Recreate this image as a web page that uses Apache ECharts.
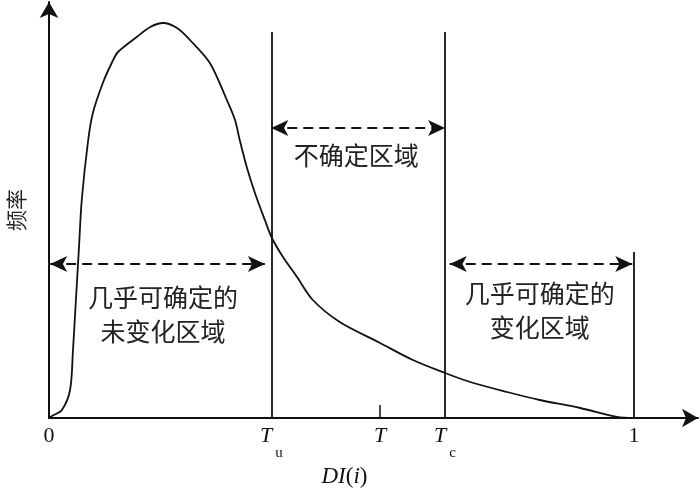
<!DOCTYPE html>
<html>
<head>
<meta charset="utf-8">
<script src="https://cdn.jsdelivr.net/npm/echarts@6/dist/echarts.min.js"></script>
<style>
html,body{margin:0;padding:0;background:#fff;}
#c{width:700px;height:493px;}
</style>
</head>
<body>
<div id="c"></div>
<script>
// Frequency curve of DI(i)
const curveX = [0, 0.005, 0.022, 0.036, 0.041, 0.046, 0.051, 0.056, 0.067, 0.075, 0.092, 0.108, 0.118, 0.150, 0.173, 0.195, 0.219, 0.241, 0.275, 0.304, 0.318, 0.326, 0.338, 0.352, 0.369, 0.381, 0.400, 0.424, 0.451, 0.497, 0.566, 0.622, 0.677, 0.720, 0.783, 0.839, 0.908, 0.971, 1.0];
const curveY = [0, 2, 8, 28, 68, 118, 168, 218, 278, 305, 335, 356, 366, 381, 391, 395, 390, 378, 355, 318, 298, 278, 251, 225, 198, 180, 161, 141, 118, 96, 75, 58, 45, 36, 26, 18, 10, 1, 0];

// thresholds and tick labels
const tickValues = [0, 0.38, 0.566, 0.677, 1];
const tickLabels = ['0', '{i|T}{s|u}', '{i|T}', '{i|T}{s|c}', '1'];
const Tu = 0.38, T = 0.566, Tc = 0.677;

// boundary lines: [x, top]
const boundX = [Tu, Tc, 1];
const boundTop = [386, 386, 166];

// double arrows: [x0, x1, y]
const arrowX0 = [Tu, 0.002, 0.685];
const arrowX1 = [Tc, 0.369, 0.997];
const arrowY = [290, 154, 154];

// region texts
const regionText = ['不确定区域', '几乎可确定的\n未变化区域', '几乎可确定的\n变化区域'];
const regionX = [0.525, 0.195, 0.839];
const regionY = [263, 104, 108];

const chart = echarts.init(document.getElementById('c'), null, {renderer: 'canvas'});

const cjk = '"Noto Sans CJK SC", sans-serif';
const serif = '"Liberation Serif", "DejaVu Serif", serif';

const markLineData = [];
boundX.forEach((x, i) => {
  markLineData.push([
    {coord: [x, 0], symbol: 'none', lineStyle: {type: 'solid', width: 1.8, color: '#111'}},
    {coord: [x, boundTop[i]], symbol: 'none'}
  ]);
});
arrowX0.forEach((x0, i) => {
  markLineData.push([
    {coord: [x0, arrowY[i]], symbol: 'arrow', lineStyle: {type: [10, 6], width: 2, color: '#111'}},
    {coord: [arrowX1[i], arrowY[i]], symbol: 'arrow'}
  ]);
});

const markPointData = regionText.map((t, i) => ({name: t, coord: [regionX[i], regionY[i]]}));

const option = {
  animation: false,
  backgroundColor: '#fff',
  grid: {left: 49, right: 2, top: 2, bottom: 75, outerBoundsMode: 'none', containLabel: false},
  xAxis: {
    type: 'value', min: 0, max: 1.1094,
    name: '{i|DI}{n|(}{i|i}{n|)}',
    nameLocation: 'middle', nameGap: 46,
    nameTextStyle: {
      padding: [0, 58, 0, 0],
      rich: {
        i: {fontFamily: serif, fontStyle: 'italic', fontSize: 23, color: '#111'},
        n: {fontFamily: serif, fontSize: 23, color: '#111'}
      }
    },
    splitLine: {show: false},
    axisLine: {show: true, onZero: false, symbol: ['none', 'arrow'], symbolSize: [14, 16], lineStyle: {color: '#111', width: 2}},
    axisTick: {show: true, inside: true, length: 13, customValues: [T], lineStyle: {color: '#111', width: 1.5}},
    axisLabel: {
      show: true, margin: 7, customValues: tickValues,
      formatter: function (v) {
        const idx = tickValues.indexOf(v);
        return idx >= 0 ? tickLabels[idx] : '';
      },
      fontFamily: serif, fontSize: 22, color: '#111',
      rich: {
        i: {fontFamily: serif, fontStyle: 'italic', fontSize: 22, color: '#111', verticalAlign: 'top'},
        s: {fontFamily: serif, fontSize: 15, color: '#111', verticalAlign: 'top', padding: [21, 0, 0, 3]}
      }
    }
  },
  yAxis: {
    type: 'value', min: 0, max: 416,
    name: '频率', nameLocation: 'middle', nameGap: 22, nameRotate: 90,
    nameTextStyle: {fontFamily: cjk, fontSize: 21, color: '#222'},
    splitLine: {show: false},
    axisLine: {show: true, onZero: false, symbol: ['none', 'arrow'], symbolSize: [14, 16], lineStyle: {color: '#111', width: 2}},
    axisTick: {show: false},
    axisLabel: {show: false}
  },
  series: [{
    type: 'line',
    data: curveX.map((x, i) => [x, curveY[i]]),
    smooth: 0.3,
    showSymbol: false,
    silent: true,
    lineStyle: {color: '#111', width: 1.8},
    markLine: {
      silent: true,
      symbol: 'none',
      symbolSize: [12, 17],
      label: {show: false},
      emphasis: {disabled: true},
      data: markLineData
    },
    markPoint: {
      silent: true,
      symbol: 'circle',
      symbolSize: 0,
      label: {
        show: true, position: 'inside', formatter: '{b}',
        fontFamily: cjk, fontSize: 25, lineHeight: 34, color: '#222', align: 'center'
      },
      data: markPointData
    }
  }]
};
chart.setOption(option);
</script>
</body>
</html>
